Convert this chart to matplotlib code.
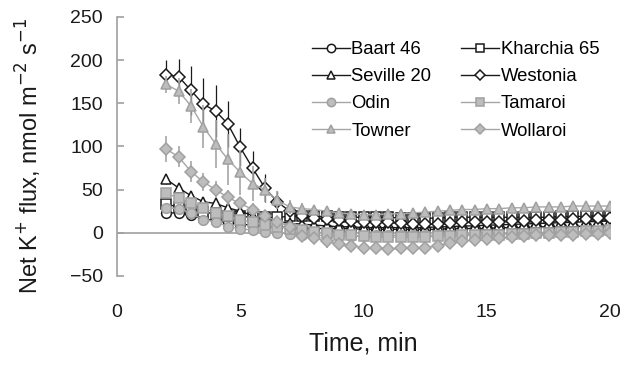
import numpy as np
import matplotlib
matplotlib.use('Agg')
import matplotlib.pyplot as plt
from matplotlib.lines import Line2D

plt.rcParams['font.family'] = ['Liberation Sans', 'DejaVu Sans']

# time points, min
time = np.arange(2, 20.01, 0.5)

# net K+ flux, nmol m-2 s-1
baart = [23, 23, 21, 16, 14, 12, 10, 9, 8, 7, 6, 6, 5, 5, 5, 5, 4, 4, 4, 4, 4, 4, 4,
         5, 5, 5, 5, 6, 6, 6, 7, 7, 7, 7, 8, 8, 8]
kharchia = [33, 30, 27, 24, 22, 20, 19, 18, 18, 18, 19, 19, 19, 19, 18, 18, 18, 18, 18,
            17, 17, 17, 17, 18, 18, 18, 18, 18, 18, 18, 18, 18, 19, 19, 19, 20, 20]
seville = [62, 52, 43, 36, 34, 29, 25, 20, 16, 13, 11, 10, 9, 8, 7, 7, 6, 6, 6, 6, 6, 6,
           7, 7, 8, 8, 9, 9, 10, 10, 11, 11, 12, 12, 13, 13, 14]
westonia = [183, 181, 165, 149, 141, 126, 99, 75, 52, 36, 25, 19, 17, 16, 15, 14, 13, 12,
            12, 11, 10, 10, 10, 11, 12, 12, 13, 13, 14, 14, 15, 15, 15, 16, 16, 17, 17]
odin = [29, 28, 23, 15, 13, 7, 5, 3, 1, 0, -1, -2, -3, -3, -4, -4, -4, -3, -3, -3, -3, -3,
        -3, -2, -2, -2, -1, -1, 0, 0, 0, 1, 1, 1, 2, 2, 2]
tamaroi = [46, 40, 35, 29, 23, 19, 15, 12, 9, 7, 5, 3, 1, 0, -2, -3, -4, -5, -5, -5, -5,
           -5, -4, -4, -3, -3, -2, -2, -1, -1, 0, 0, 1, 1, 2, 2, 3]
towner = [172, 164, 147, 123, 103, 85, 70, 57, 50, 38, 30, 28, 27, 25, 23, 22, 21, 21, 22,
          22, 23, 24, 25, 26, 27, 27, 28, 28, 29, 29, 30, 30, 30, 31, 31, 31, 31]
wollaroi = [97, 88, 71, 59, 50, 41, 34, 27, 20, 13, 7, -4, -6, -10, -13, -15, -17, -18,
            -19, -18, -18, -17, -15, -12, -10, -8, -7, -6, -5, -4, -3, -3, -2, -2, -1, -1, 0]

# standard errors
err_westonia = [17, 20, 28, 30, 30, 27, 22, 20, 16, 12, 9, 7, 6, 6, 5, 5, 5, 5, 5, 5, 5,
                5, 5, 5, 5, 5, 5, 5, 5, 5, 5, 5, 5, 5, 5, 5, 5]
err_towner = [10, 15, 20, 25, 28, 30, 26, 20, 14, 10, 8, 6, 5, 5, 5, 5, 5, 5, 5, 5, 5,
              5, 5, 5, 5, 5, 5, 5, 5, 5, 5, 5, 5, 5, 5, 5, 5]
err_wollaroi = [15, 12, 12, 10, 10, 9, 8, 7, 6, 6, 6, 6, 7, 7, 7, 7, 7, 7, 7, 7, 7, 7,
                7, 6, 6, 6, 6, 6, 6, 6, 6, 6, 6, 6, 6, 6, 6]
err_small = [5] * len(time)

black = '#1a1a1a'
grey_line = '#a6a6a6'
grey_face = '#bdbdbd'
grey_edge = '#a0a0a0'

series = [
    ('Baart 46', baart, err_small, 'o', 'black'),
    ('Kharchia 65', kharchia, err_small, 's', 'black'),
    ('Seville 20', seville, err_small, '^', 'black'),
    ('Westonia', westonia, err_westonia, 'D', 'black'),
    ('Odin', odin, err_small, 'o', 'grey'),
    ('Tamaroi', tamaroi, err_small, 's', 'grey'),
    ('Towner', towner, err_towner, '^', 'grey'),
    ('Wollaroi', wollaroi, err_wollaroi, 'D', 'grey'),
]

fig = plt.figure(figsize=(6.22, 3.68), dpi=100)
ax = fig.add_axes([0.188, 0.25, 0.793, 0.704])

ax.axhline(0, color=grey_edge, lw=1.2, zorder=1)

handles = {}
for name, vals, err, mk, kind in series:
    ms = 6.5 if mk == 'D' else 7
    if kind == 'black':
        style = dict(color=black, mfc='white', mec=black)
        ax.errorbar(time, vals, yerr=err, fmt='-', marker=mk, lw=1, ms=ms, mew=1.1,
                    ecolor=black, elinewidth=0.9, capsize=0, zorder=3, **style)
    else:
        style = dict(color=grey_line, mfc=grey_face, mec=grey_edge)
        ax.errorbar(time, vals, yerr=err, fmt='-', marker=mk, lw=1, ms=ms, mew=1.1,
                    ecolor=grey_line, elinewidth=1.2, capsize=0, zorder=4, **style)
    handles[name] = Line2D([], [], marker=mk, lw=1, ms=ms - 1, mew=1.1, **style)

order = ['Baart 46', 'Seville 20', 'Odin', 'Towner',
         'Kharchia 65', 'Westonia', 'Tamaroi', 'Wollaroi']
ax.legend([handles[n] for n in order], order, ncol=2, frameon=False, fontsize=13.3,
          loc='upper left', bbox_to_anchor=(0.38, 0.935), handlelength=2.05,
          handletextpad=0.1, columnspacing=1.6, labelspacing=0.55, borderaxespad=0)

ax.set_xlim(0, 20)
ax.set_ylim(-50, 250)
ax.set_xticks([0, 5, 10, 15, 20])
ax.set_yticks([-50, 0, 50, 100, 150, 200, 250])
ax.set_yticklabels(['\u221250', '0', '50', '100', '150', '200', '250'])

for s in ['top', 'right', 'bottom']:
    ax.spines[s].set_visible(False)
ax.spines['left'].set_color(grey_edge)
ax.spines['left'].set_linewidth(1.2)

ax.tick_params(axis='y', direction='in', length=5, width=1.2, color=grey_edge,
               labelsize=14, pad=10, labelcolor='#1a1a1a')
ax.tick_params(axis='x', length=0, labelsize=14, pad=20, labelcolor='#1a1a1a')

ax.set_xlabel('Time, min', fontsize=18, labelpad=8, color='#1a1a1a')
ax.set_ylabel('Net K$^{+}$ flux, nmol m$^{\u22122}$ s$^{\u22121}$', fontsize=17,
              color='#1a1a1a')
ax.yaxis.set_label_coords(-0.148, 0.465)

fig.savefig('out.png', dpi=100)
